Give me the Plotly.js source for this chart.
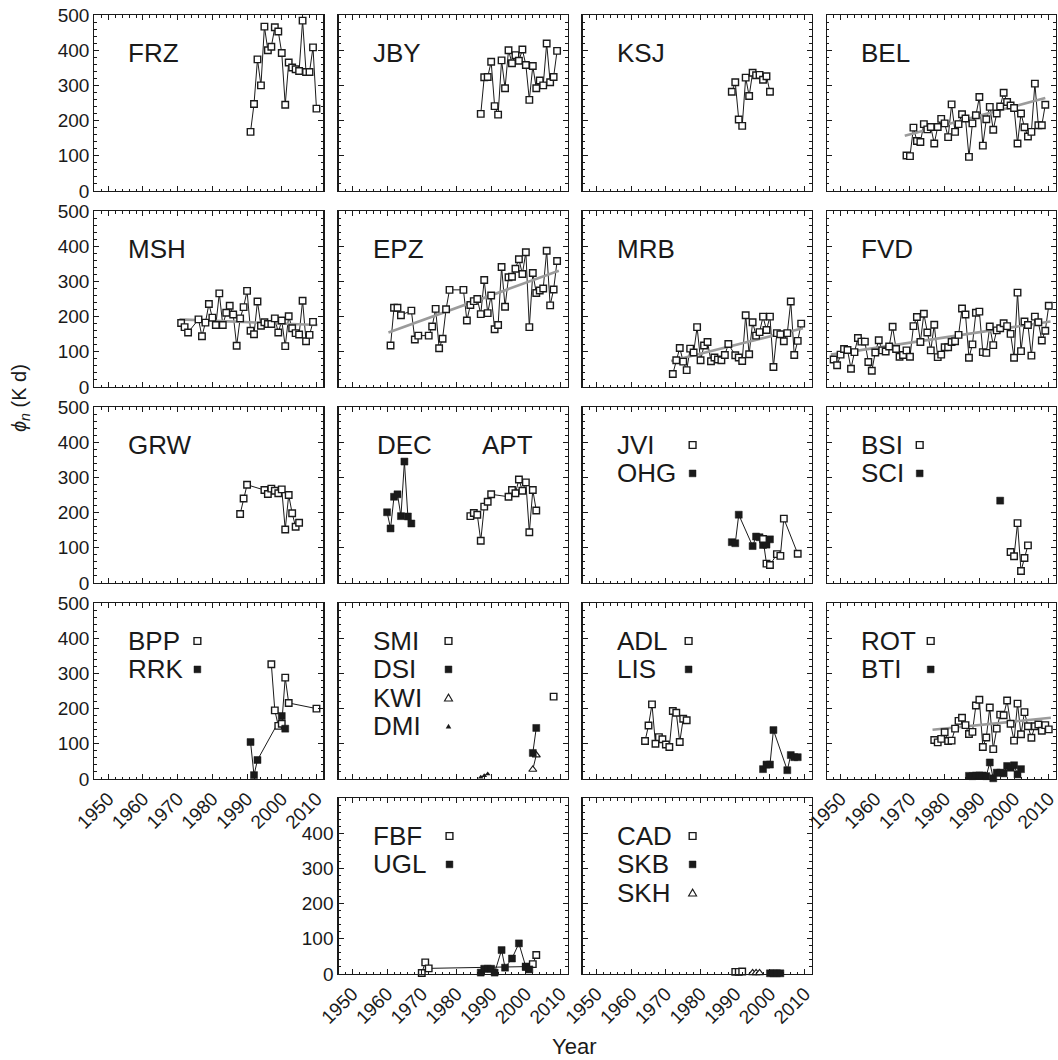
<!DOCTYPE html>
<html>
<head>
<meta charset="utf-8">
<script src="https://cdn.plot.ly/plotly-3.0.1.min.js"></script>
<style>
  html, body { margin: 0; padding: 0; background: #fff; }
  #chart { width: 1058px; height: 1060px; }
</style>
</head>
<body>
<div id="chart"></div>
<script>
// ---- Station series: year and phi_n (K d) ----
const yearFRZ = [1991,1992,1993,1994,1995,1996,1997,1998,1999,2000,2001,2002,2003,2004,2005,2006,2007,2008,2009,2010];
const phiFRZ  = [168,247,374,300,467,400,410,465,453,392,245,365,351,346,341,484,338,338,408,234];

const yearJBY = [1987,1988,1989,1990,1991,1992,1993,1994,1995,1996,1997,1998,1999,2000,2001,2002,2003,2004,2005,2006,2007,2008,2009];
const phiJBY  = [219,323,324,367,241,217,371,292,400,363,386,370,402,358,259,355,292,314,300,419,309,324,398];

const yearKSJ = [1989,1990,1991,1992,1993,1994,1995,1996,1997,1998,1999,2000];
const phiKSJ  = [282,309,203,185,322,270,336,329,330,316,326,282];

const yearBEL = [1969,1970,1971,1972,1973,1974,1975,1976,1977,1978,1979,1980,1981,1982,1983,1984,1985,1986,1987,1988,1989,1990,1991,1992,1993,1994,1995,1996,1997,1998,1999,2000,2001,2002,2003,2004,2005,2006,2007,2008,2009];
const phiBEL  = [101,99,180,142,139,190,175,182,135,182,205,192,153,246,168,190,218,206,97,192,215,267,129,204,239,174,220,240,279,253,243,236,135,220,181,155,168,305,187,187,245];
const trendYearBEL = [1968.5, 2009];
const trendPhiBEL  = [157, 264];

const yearMSH = [1971,1972,1973,1976,1977,1978,1979,1980,1981,1982,1983,1984,1985,1986,1987,1988,1989,1990,1991,1992,1993,1994,1995,1996,1997,1998,1999,2000,2001,2002,2003,2004,2005,2006,2007,2008,2009];
const phiMSH  = [182,170,155,192,144,183,236,197,176,266,176,211,231,206,117,195,227,273,160,150,243,174,184,179,179,195,155,189,116,201,167,153,149,245,130,148,185];
const trendYearMSH = [1970.5, 2010.3];
const trendPhiMSH  = [192, 176];

const yearEPZ = [1961,1962,1963,1964,1967,1968,1969,1972,1973,1974,1975,1976,1977,1978,1982,1983,1984,1985,1986,1987,1988,1989,1990,1991,1992,1993,1994,1995,1996,1997,1998,1999,2000,2001,2002,2003,2004,2005,2006,2007,2008,2009];
const phiEPZ  = [118,225,225,204,217,135,146,146,172,222,110,137,221,276,276,189,233,244,250,207,304,210,260,164,176,341,228,312,313,336,363,321,383,170,324,267,274,280,387,232,277,358];
const trendYearEPZ = [1960.4, 2009.5];
const trendPhiEPZ  = [155, 330];

const yearMRB = [1972,1973,1974,1975,1976,1977,1978,1979,1980,1981,1982,1983,1984,1985,1986,1987,1988,1990,1991,1992,1993,1994,1995,1996,1997,1998,1999,2000,2001,2002,2003,2004,2005,2006,2007,2008,2009];
const phiMRB  = [37,76,111,72,48,109,98,170,76,118,128,73,84,78,76,91,122,90,84,74,204,93,184,146,156,200,162,200,57,153,150,130,153,243,91,131,180];
const trendYearMRB = [1971.5, 2009.5];
const trendPhiMRB  = [74, 167];

const yearFVD = [1948,1949,1950,1951,1952,1953,1954,1955,1956,1957,1958,1959,1960,1961,1962,1963,1964,1965,1966,1967,1968,1969,1970,1971,1972,1973,1974,1975,1976,1977,1978,1979,1980,1981,1982,1983,1984,1985,1986,1987,1988,1989,1990,1991,1992,1993,1994,1995,1996,1997,1998,1999,2000,2001,2002,2003,2004,2005,2006,2007,2008,2009,2010];
const phiFVD  = [78,62,92,108,105,52,99,139,129,129,71,46,98,133,104,101,115,171,108,86,91,104,86,173,199,128,208,155,104,177,85,92,113,113,128,130,148,223,206,83,121,211,214,99,97,172,119,161,167,181,173,151,83,268,102,186,176,89,200,184,132,160,231];
const trendYearFVD = [1947.2, 2010.5];
const trendPhiFVD  = [92, 186];

const yearGRW = [1988,1989,1990,1995,1996,1997,1998,1999,2000,2001,2002,2003,2004,2005];
const phiGRW  = [196,240,279,264,253,268,262,255,266,152,250,198,160,171];

const yearDEC = [1960,1961,1962,1963,1964,1965,1966,1967];
const phiDEC  = [201,155,245,252,190,345,189,169];
const yearAPT = [1984,1985,1986,1987,1988,1989,1990,1995,1996,1997,1998,1999,2000,2001,2002,2003];
const phiAPT  = [190,199,194,120,217,231,252,245,264,255,294,262,286,144,264,206];

const yearJVI = [1998,1999,2000,2002,2003,2004,2008];
const phiJVI  = [125,55,51,82,77,183,83];
const yearOHG = [1989,1990,1991,1995,1996,1997,1998,1999,2000];
const phiOHG  = [116,113,194,105,132,130,108,109,124];

const yearBSI = [1999,2000,2001,2002,2003,2004];
const phiBSI  = [88,76,170,34,71,107];
const yearSCI = [1996];
const phiSCI  = [234];

const yearBPP = [1997,1998,1999,2000,2001,2002,2010];
const phiBPP  = [326,195,151,157,288,216,200];
const yearRRK = [1991,1992,1993,2000,2001];
const phiRRK  = [105,11,54,179,143];

const yearSMI = [2008];
const phiSMI  = [234];
const yearDSI = [2002,2003];
const phiDSI  = [74,145];
const yearKWI = [2002,2003];
const phiKWI  = [27,68];
const yearDMI = [1987,1988,1989];
const phiDMI  = [5,9,14];

const yearADL = [1964,1965,1966,1967,1968,1969,1970,1971,1972,1973,1974,1975,1976];
const phiADL  = [108,152,212,100,119,113,98,91,193,188,105,171,167];
const yearLIS = [1998,1999,2000,2001,2005,2006,2007,2008];
const phiLIS  = [28,41,41,139,25,68,62,62];

const yearROT = [1977,1978,1979,1980,1981,1982,1983,1984,1985,1986,1987,1988,1989,1990,1991,1992,1993,1994,1995,1996,1997,1998,1999,2000,2001,2002,2003,2004,2005,2006,2007,2008,2009,2010];
const phiROT  = [111,104,114,133,108,109,143,165,174,153,128,134,209,225,91,118,203,85,143,183,181,223,157,109,214,127,190,150,117,150,155,137,153,141];
const trendYearROT = [1976.5, 2010.6];
const trendPhiROT  = [140, 174];
const yearBTI = [1987,1988,1989,1990,1991,1992,1993,1994,1995,1996,1997,1998,1999,2000,2001,2002];
const phiBTI  = [9,8,10,10,10,8,47,2,18,18,16,37,32,39,13,28];

const yearFBF = [1970,1971,1972,2000,2002,2003];
const phiFBF  = [3,33,16,21,28,54];
const yearUGL = [1987,1988,1989,1990,1991,1993,1994,1996,1998,2000,2001];
const phiUGL  = [4,15,15,15,4,68,18,44,87,20,13];

const yearCAD = [1990,1991,1992];
const phiCAD  = [6,6,7];
const yearSKB = [2000,2001,2002,2003];
const phiSKB  = [2,2,2,2];
const yearSKH = [1995,1996,1997];
const phiSKH  = [3,3,3];

// Tick values
const yearTicks = [1950, 1960, 1970, 1980, 1990, 2000, 2010];
const phiTicks  = [0, 100, 200, 300, 400, 500];
const phiTicksLow = [0, 100, 200, 300, 400];

// ---- Page geometry (pixels) ----
const W = 1058, H = 1060;
const colLeft = [94.4, 338.5, 582.6, 826.7];
const rowTop  = [15, 211, 407, 603, 798];
const PW = 229, PH = 176;
const INK = '#1a1a1a';

// Marker styles
const STYLE = {
  open:     { symbol: 'square', size: 6.5, color: '#fff', line: { color: INK, width: 1.4 } },
  filled:   { symbol: 'square', size: 7, color: INK, line: { color: INK, width: 0.5 } },
  triOpen:  { symbol: 'triangle-up', size: 7, color: '#fff', line: { color: INK, width: 1.2 } },
  triSmall: { symbol: 'triangle-up', size: 5, color: INK, line: { color: INK, width: 0 } }
};

// Panels: grid cell, series, in-panel names (with key marker), which tick labels to show
const panels = [
  { r:0, c:0, yl:true,  series:[{x:yearFRZ,y:phiFRZ,m:'open'}], names:[{t:'FRZ'}] },
  { r:0, c:1,           series:[{x:yearJBY,y:phiJBY,m:'open'}], names:[{t:'JBY'}] },
  { r:0, c:2,           series:[{x:yearKSJ,y:phiKSJ,m:'open'}], names:[{t:'KSJ'}] },
  { r:0, c:3,           series:[{x:yearBEL,y:phiBEL,m:'open'}], trend:{x:trendYearBEL,y:trendPhiBEL}, names:[{t:'BEL'}] },
  { r:1, c:0, yl:true,  series:[{x:yearMSH,y:phiMSH,m:'open'}], trend:{x:trendYearMSH,y:trendPhiMSH}, names:[{t:'MSH'}] },
  { r:1, c:1,           series:[{x:yearEPZ,y:phiEPZ,m:'open'}], trend:{x:trendYearEPZ,y:trendPhiEPZ}, names:[{t:'EPZ'}] },
  { r:1, c:2,           series:[{x:yearMRB,y:phiMRB,m:'open'}], trend:{x:trendYearMRB,y:trendPhiMRB}, names:[{t:'MRB'}] },
  { r:1, c:3,           series:[{x:yearFVD,y:phiFVD,m:'open'}], trend:{x:trendYearFVD,y:trendPhiFVD}, names:[{t:'FVD'}] },
  { r:2, c:0, yl:true,  series:[{x:yearGRW,y:phiGRW,m:'open'}], names:[{t:'GRW'}] },
  { r:2, c:1,           series:[{x:yearDEC,y:phiDEC,m:'filled'},{x:yearAPT,y:phiAPT,m:'open'}],
    names:[{t:'DEC', dx:36},{t:'APT', dx:141, same:true}] },
  { r:2, c:2, keyX:110, series:[{x:yearOHG,y:phiOHG,m:'filled'},{x:yearJVI,y:phiJVI,m:'open'}],
    names:[{t:'JVI',m:'open'},{t:'OHG',m:'filled'}] },
  { r:2, c:3, keyX:93,  series:[{x:yearSCI,y:phiSCI,m:'filled'},{x:yearBSI,y:phiBSI,m:'open'}],
    names:[{t:'BSI',m:'open'},{t:'SCI',m:'filled'}] },
  { r:3, c:0, yl:true, xl:true, keyX:103, series:[{x:yearBPP,y:phiBPP,m:'open'},{x:yearRRK,y:phiRRK,m:'filled'}],
    names:[{t:'BPP',m:'open'},{t:'RRK',m:'filled'}] },
  { r:3, c:1, keyX:110, series:[{x:yearSMI,y:phiSMI,m:'open'},{x:yearKWI,y:phiKWI,m:'triOpen'},{x:yearDSI,y:phiDSI,m:'filled'},{x:yearDMI,y:phiDMI,m:'triSmall'}],
    names:[{t:'SMI',m:'open'},{t:'DSI',m:'filled'},{t:'KWI',m:'triOpen'},{t:'DMI',m:'triSmall'}] },
  { r:3, c:2, keyX:106, series:[{x:yearADL,y:phiADL,m:'open'},{x:yearLIS,y:phiLIS,m:'filled'}],
    names:[{t:'ADL',m:'open'},{t:'LIS',m:'filled'}] },
  { r:3, c:3, xl:true, keyX:104, series:[{x:yearROT,y:phiROT,m:'open'},{x:yearBTI,y:phiBTI,m:'filled'}],
    trend:{x:trendYearROT,y:trendPhiROT}, names:[{t:'ROT',m:'open'},{t:'BTI',m:'filled'}] },
  { r:4, c:1, xl:true, yl:'low', keyX:111, series:[{x:yearFBF,y:phiFBF,m:'open'},{x:yearUGL,y:phiUGL,m:'filled'}],
    names:[{t:'FBF',m:'open'},{t:'UGL',m:'filled'}] },
  { r:4, c:2, xl:true, keyX:110, series:[{x:yearCAD,y:phiCAD,m:'open'},{x:yearSKH,y:phiSKH,m:'triOpen'},{x:yearSKB,y:phiSKB,m:'filled'}],
    names:[{t:'CAD',m:'open'},{t:'SKB',m:'filled'},{t:'SKH',m:'triOpen'}] }
];

const FONT = 'Liberation Sans, Arial, Helvetica, sans-serif';
const px = v => v / W;
const py = v => 1 - v / H;

const axisCommon = {
  showline: true, mirror: 'allticks', linecolor: INK, linewidth: 1.2,
  ticks: 'inside', ticklen: 5, tickwidth: 1, tickcolor: INK,
  showgrid: false, zeroline: false, fixedrange: true,
  tickfont: { family: FONT, size: 19, color: INK }
};
const minorCommon = { ticks: 'inside', ticklen: 2.5, tickwidth: 1, tickcolor: INK, showgrid: false };

const traces = [];
const layout = {
  width: W, height: H,
  margin: { l: 0, r: 0, t: 0, b: 0 },
  paper_bgcolor: '#fff', plot_bgcolor: '#fff',
  showlegend: false,
  font: { family: FONT, color: INK },
  annotations: [], shapes: []
};

// key-marker drawn in page pixels
function keyShape(kind, cx, cy) {
  if (kind === 'open' || kind === 'filled') {
    const h = 3.4;
    return { type: 'rect', xref: 'paper', yref: 'paper', layer: 'above',
      x0: px(cx - h), x1: px(cx + h), y0: py(cy + h), y1: py(cy - h),
      fillcolor: kind === 'open' ? '#fff' : INK,
      line: { color: INK, width: kind === 'open' ? 1.4 : 0.5 } };
  }
  const s = kind === 'triOpen' ? 4 : 2.8;
  const p = `M ${px(cx - s)} ${py(cy + s * 0.8)} L ${px(cx + s)} ${py(cy + s * 0.8)} L ${px(cx)} ${py(cy - s * 0.9)} Z`;
  return { type: 'path', xref: 'paper', yref: 'paper', layer: 'above', path: p,
    fillcolor: kind === 'triOpen' ? '#fff' : INK,
    line: { color: INK, width: kind === 'triOpen' ? 1.1 : 0 } };
}

panels.forEach((p, k) => {
  const n = k + 1;
  const sfx = n === 1 ? '' : String(n);
  const xa = 'x' + sfx, ya = 'y' + sfx;
  const L = colLeft[p.c], T = rowTop[p.r];

  layout['xaxis' + sfx] = Object.assign({}, axisCommon, {
    domain: [px(L), px(L + PW)], anchor: ya, range: [1946, 2012],
    tickmode: 'array', tickvals: yearTicks, tickangle: -45,
    showticklabels: !!p.xl, ticklabeloverflow: 'allow',
    minor: Object.assign({}, minorCommon, { tickmode: 'linear', tick0: 1950, dtick: 2 })
  });
  layout['yaxis' + sfx] = Object.assign({}, axisCommon, {
    domain: [py(T + PH), py(T)], anchor: xa, range: [0, 500],
    tickmode: 'array', tickvals: p.yl === 'low' ? phiTicksLow : phiTicks,
    showticklabels: !!p.yl,
    minor: Object.assign({}, minorCommon, { tickmode: 'linear', tick0: 0, dtick: 20 })
  });

  // connecting lines first
  p.series.forEach(s => {
    traces.push({ type: 'scatter', mode: 'lines', x: s.x, y: s.y, xaxis: xa, yaxis: ya,
      line: { color: INK, width: 1 }, hoverinfo: 'skip', cliponaxis: true });
  });
  // fitted trend
  if (p.trend) {
    traces.push({ type: 'scatter', mode: 'lines', x: p.trend.x, y: p.trend.y, xaxis: xa, yaxis: ya,
      line: { color: '#9b9b9b', width: 2.6 }, hoverinfo: 'skip' });
  }
  // markers on top
  p.series.forEach(s => {
    traces.push({ type: 'scatter', mode: 'markers', x: s.x, y: s.y, xaxis: xa, yaxis: ya,
      marker: STYLE[s.m], cliponaxis: false });
  });

  // station names and key markers
  let line = 0;
  p.names.forEach((nm, j) => {
    if (j > 0 && !nm.same) line++;
    const cy = T + 38 + line * 28.4;
    layout.annotations.push({
      xref: 'paper', yref: 'paper', x: px(L + (nm.dx || 32)), y: py(cy),
      xanchor: 'left', yanchor: 'middle', showarrow: false, text: nm.t,
      font: { family: FONT, size: 26, color: INK }
    });
    if (nm.m) layout.shapes.push(keyShape(nm.m, L + p.keyX, cy));
  });
});

// shared axis titles
layout.annotations.push({
  xref: 'paper', yref: 'paper', x: px(20), y: py(398), textangle: -90,
  xanchor: 'center', yanchor: 'middle', showarrow: false,
  text: '<i>ϕ</i><sub><i>n</i></sub> (K d)', font: { family: FONT, size: 20, color: INK }
});
layout.annotations.push({
  xref: 'paper', yref: 'paper', x: px(574), y: py(1046),
  xanchor: 'center', yanchor: 'middle', showarrow: false,
  text: 'Year', font: { family: FONT, size: 22, color: INK }
});

Plotly.newPlot('chart', traces, layout, { staticPlot: true, displayModeBar: false });
</script>
</body>
</html>
